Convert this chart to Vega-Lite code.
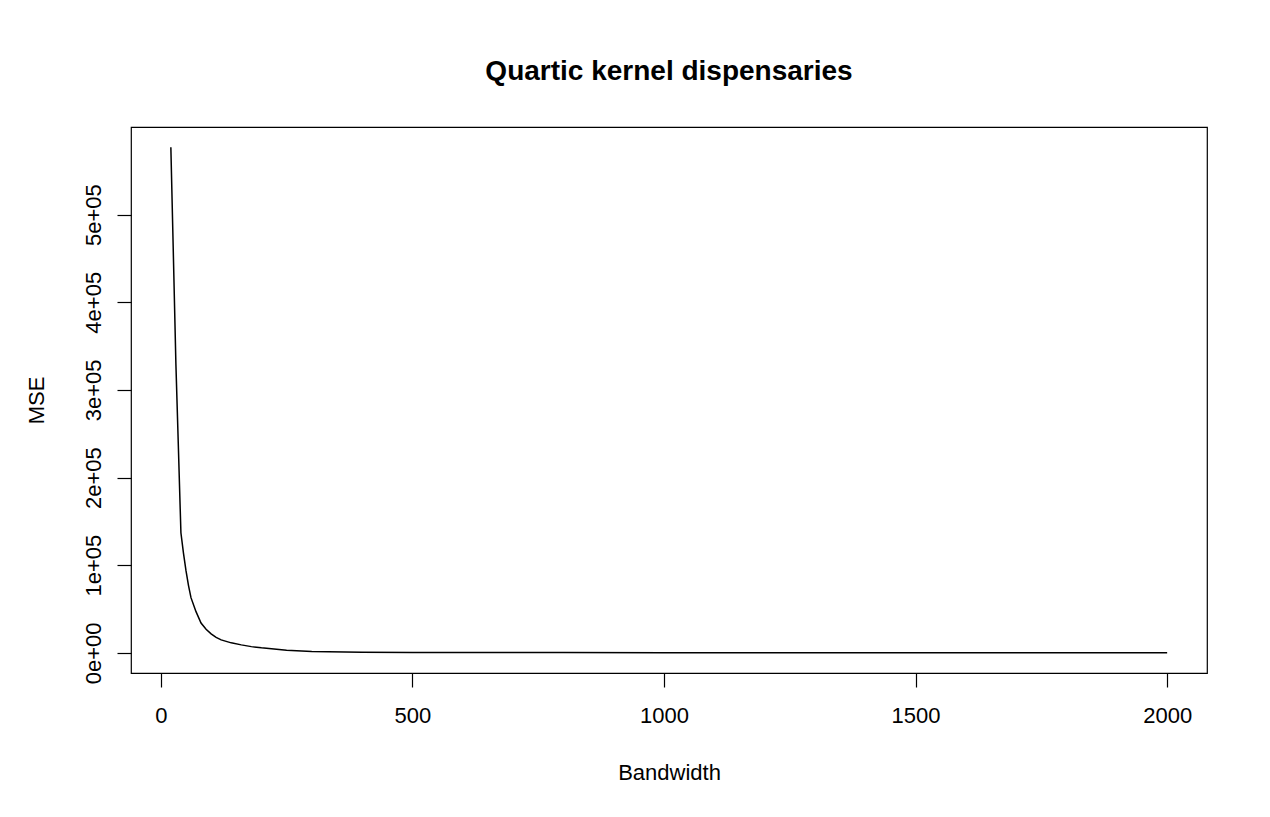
{
  "$schema": "https://vega.github.io/schema/vega-lite/v6.json",
  "autosize": "none",
  "width": 1076,
  "height": 546,
  "padding": {"left": 131, "top": 127, "right": 63, "bottom": 144},
  "background": "white",
  "title": {
    "text": "Quartic kernel dispensaries",
    "font": "Liberation Sans",
    "fontSize": 28,
    "fontWeight": "bold",
    "color": "black",
    "anchor": "middle",
    "frame": "group",
    "baseline": "alphabetic",
    "offset": 19
  },
  "data": {
    "values": [
      {"Bandwidth": 20, "MSE": 577000},
      {"Bandwidth": 25, "MSE": 454000},
      {"Bandwidth": 30, "MSE": 330000},
      {"Bandwidth": 35, "MSE": 234000},
      {"Bandwidth": 40, "MSE": 137000},
      {"Bandwidth": 45, "MSE": 114000},
      {"Bandwidth": 50, "MSE": 94000},
      {"Bandwidth": 55, "MSE": 77000},
      {"Bandwidth": 60, "MSE": 63000},
      {"Bandwidth": 70, "MSE": 47000},
      {"Bandwidth": 80, "MSE": 34000},
      {"Bandwidth": 90, "MSE": 27000},
      {"Bandwidth": 100, "MSE": 21700},
      {"Bandwidth": 110, "MSE": 17700},
      {"Bandwidth": 120, "MSE": 14800},
      {"Bandwidth": 140, "MSE": 11400},
      {"Bandwidth": 160, "MSE": 9100},
      {"Bandwidth": 180, "MSE": 7100},
      {"Bandwidth": 200, "MSE": 5700},
      {"Bandwidth": 250, "MSE": 2900},
      {"Bandwidth": 300, "MSE": 1500},
      {"Bandwidth": 400, "MSE": 800},
      {"Bandwidth": 500, "MSE": 500},
      {"Bandwidth": 600, "MSE": 350},
      {"Bandwidth": 800, "MSE": 250},
      {"Bandwidth": 1000, "MSE": 200},
      {"Bandwidth": 1500, "MSE": 150},
      {"Bandwidth": 2000, "MSE": 100}
    ]
  },
  "mark": {"type": "line", "color": "black", "strokeWidth": 1.5, "interpolate": "linear"},
  "encoding": {
    "x": {
      "field": "Bandwidth",
      "type": "quantitative",
      "scale": {"domain": [-59.2, 2079.2], "nice": false, "zero": false},
      "axis": {
        "title": "Bandwidth",
        "values": [0, 500, 1000, 1500, 2000],
        "format": "d",
        "labelPadding": 18,
        "titleBaseline": "alphabetic",
        "titleY": 106
      }
    },
    "y": {
      "field": "MSE",
      "type": "quantitative",
      "scale": {"domain": [-23000, 600000], "nice": false, "zero": false},
      "axis": {
        "title": "MSE",
        "values": [0, 100000, 200000, 300000, 400000, 500000],
        "labelExpr": "replace(format(datum.value, '.0e'), '+', '+0')",
        "labelAngle": -90,
        "labelAlign": "center",
        "labelBaseline": "alphabetic",
        "labelPadding": 17,
        "titleAngle": -90,
        "titleBaseline": "alphabetic",
        "titleAlign": "center",
        "titleX": -88,
        "titleY": 273
      }
    }
  },
  "config": {
    "view": {"stroke": "black", "strokeWidth": 1.2, "fill": "white"},
    "axis": {
      "domain": false,
      "grid": false,
      "ticks": true,
      "tickColor": "black",
      "tickSize": 14,
      "tickWidth": 1.2,
      "labelFont": "Liberation Sans",
      "labelFontSize": 22,
      "labelColor": "black",
      "labelOverlap": false,
      "labelFlush": false,
      "titleFont": "Liberation Sans",
      "titleFontSize": 22,
      "titleFontWeight": "normal",
      "titleColor": "black"
    }
  }
}
